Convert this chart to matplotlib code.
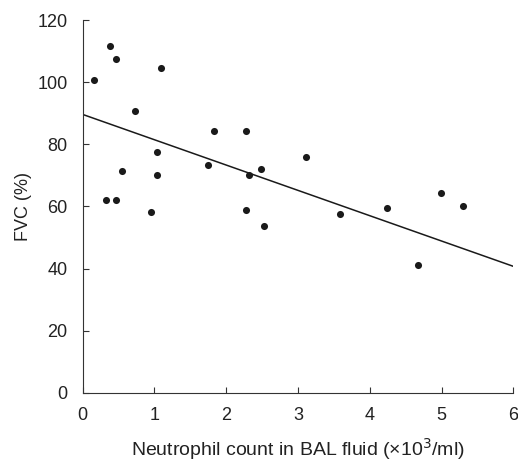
import numpy as np
import matplotlib
matplotlib.use('Agg')
import matplotlib.pyplot as plt

plt.rcParams['font.family'] = ['Liberation Sans', 'DejaVu Sans']

# neutrophil count in BAL fluid (x10^3/ml) vs FVC (% predicted)
neutrophils = [0.16, 0.38, 0.47, 1.09, 0.73, 1.83, 2.27, 1.04, 1.75, 2.31,
               2.49, 3.11, 0.55, 1.04, 0.32, 0.46, 0.95, 2.27, 2.53, 3.58,
               4.24, 4.67, 4.99, 5.30]
fvc = [100.6, 111.6, 107.6, 104.5, 90.6, 84.4, 84.4, 77.4, 73.2, 70.0,
       72.0, 76.0, 71.4, 70.2, 62.2, 62.2, 58.1, 58.8, 53.8, 57.5,
       59.6, 41.2, 64.4, 60.2]

# regression line
fit_intercept = 89.6
fit_slope = -8.15

xticks = [0, 1, 2, 3, 4, 5, 6]
yticks = [0, 20, 40, 60, 80, 100, 120]

fig = plt.figure(figsize=(5.18, 4.61), dpi=100)
ax = fig.add_axes([0.1597, 0.148, 0.8313, 0.8086])

ax.scatter(neutrophils, fvc, s=26, color='#1a1a1a', zorder=3, linewidths=0)
xl = np.array([0, 6])
ax.plot(xl, fit_intercept + fit_slope * xl, color='#1a1a1a', lw=1.1)

ax.set_xlim(0, 6)
ax.set_ylim(0, 120)
ax.set_xticks(xticks)
ax.set_yticks(yticks)
for s in ['top', 'right']:
    ax.spines[s].set_visible(False)
for s in ['left', 'bottom']:
    ax.spines[s].set_linewidth(0.8)
    ax.spines[s].set_color('#333333')
ax.tick_params(direction='in', length=4.5, width=0.8, color='#333333',
               labelsize=13, labelcolor='#222222')
ax.tick_params(axis='x', pad=10)
ax.tick_params(axis='y', pad=11)

ax.set_xlabel('Neutrophil count in BAL fluid (\u00d710$^3$/ml)', fontsize=14,
              color='#222222', labelpad=9)
ax.set_ylabel('FVC (%)', fontsize=13, color='#222222', labelpad=4)

fig.savefig('out.png', dpi=100)
